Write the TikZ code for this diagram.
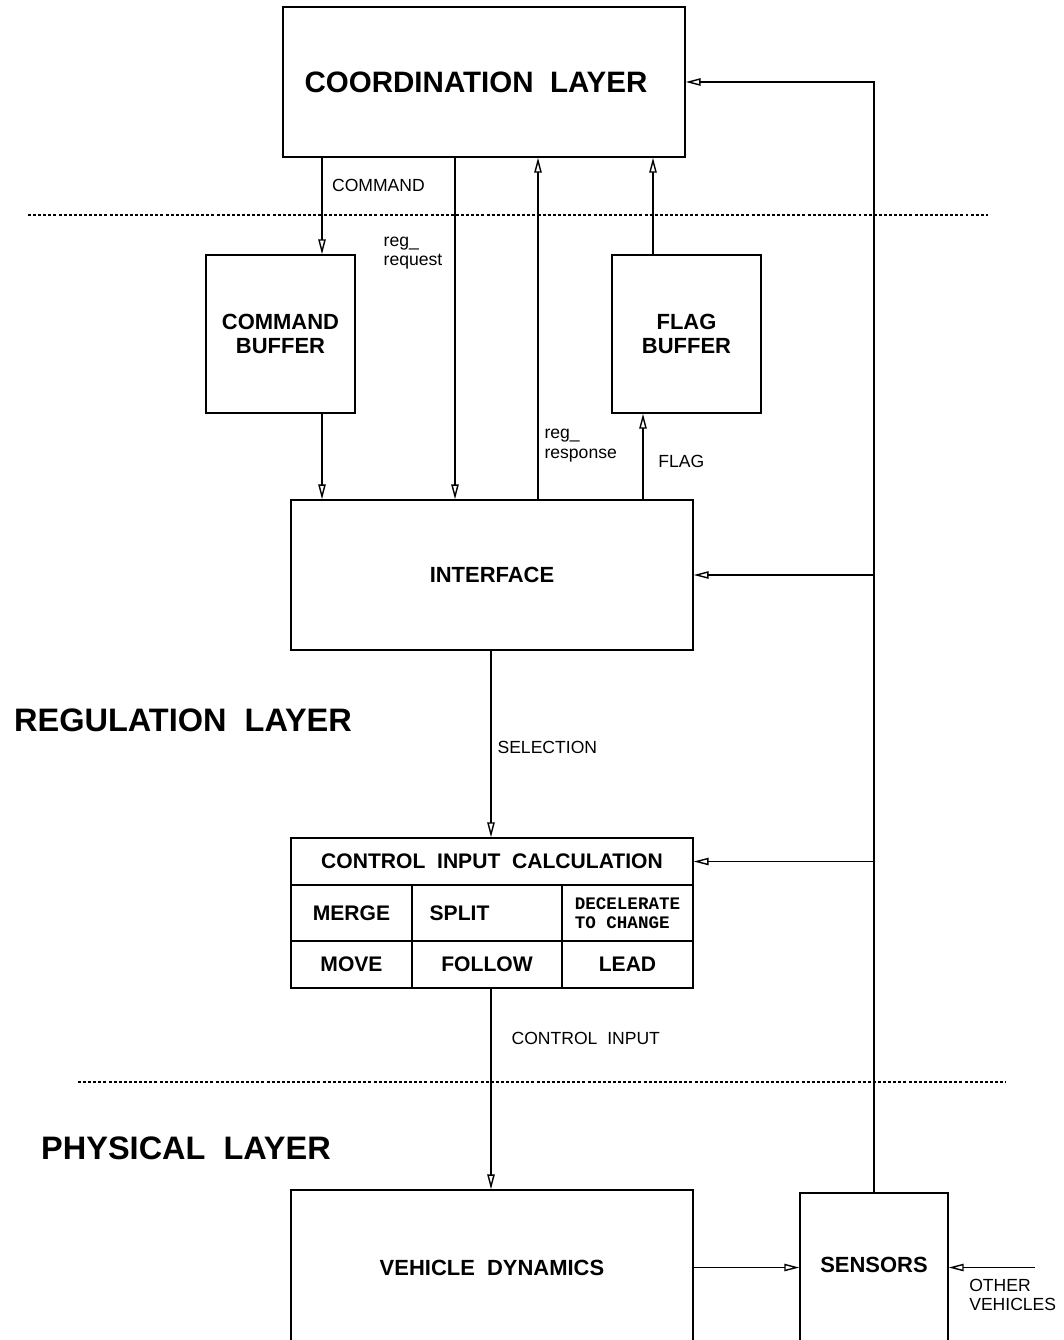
\documentclass[tikz,border=0pt]{standalone}
\usepackage{fontspec}
\setmainfont{Liberation Sans}
\setmonofont{Liberation Mono}
\usepackage{tikz}
\usetikzlibrary{arrows.meta}

\begin{document}
\begin{tikzpicture}[
  x=0.02cm, y=-0.02cm,
  >={Triangle[open,length=8.5pt,width=4.2pt]},
  line width=0.8pt,
  block/.style={draw,line width=0.85pt,align=center,inner sep=0pt,
                font=\fontsize{12.5}{14}\selectfont\bfseries},
  cell/.style={block,font=\fontsize{12}{14}\selectfont\bfseries},
  lbl/.style={font=\fontsize{10}{11}\selectfont,align=left},
  layer/.style={font=\fontsize{18.5}{22}\selectfont\bfseries},
  sep/.style={line width=1.3pt,dash pattern=on 1.7pt off 1.2pt}
]
 \useasboundingbox (0,0) rectangle (1063,1340);

 % boxes
 \node[block,minimum width=8.04cm,minimum height=3cm,
       font=\fontsize{16.8}{18}\selectfont\bfseries] (coord) at (484,82)
       {COORDINATION~~LAYER\hspace{0.32cm}};
 \node[block,minimum width=2.98cm,minimum height=3.16cm] (cbuf) at (280.5,334)
       {COMMAND\\BUFFER};
 \node[block,minimum width=2.98cm,minimum height=3.16cm] (fbuf) at (686.5,334)
       {FLAG\\BUFFER};
 \node[block,minimum width=8.04cm,minimum height=3cm] (iface) at (492,575)
       {INTERFACE};

 % control input table
 \node[cell,minimum width=8.04cm,minimum height=0.94cm] (calc) at (492,861.5)
       {CONTROL~~INPUT~~CALCULATION};
 \node[cell,minimum width=2.42cm,minimum height=1.12cm] (merge) at (351.5,913) {MERGE};
 \node[cell,minimum width=3cm,minimum height=1.12cm] (split) at (487,913)
       {SPLIT\hspace{1.1cm}};
 \node[cell,minimum width=2.62cm,minimum height=1.12cm,align=left,
       font=\fontsize{10}{11}\selectfont\ttfamily\bfseries] (decel) at (627.5,913)
       {DECELERATE\\TO CHANGE};
 \node[cell,minimum width=2.42cm,minimum height=0.94cm] (move) at (351.5,964.5) {MOVE};
 \node[cell,minimum width=3cm,minimum height=0.94cm] (follow) at (487,964.5)
       {FOLLOW};
 \node[cell,minimum width=2.62cm,minimum height=0.94cm] (lead) at (627.5,964.5) {LEAD};

 \node[block,minimum width=8.04cm,minimum height=3.1cm] (vd) at (492,1267.5)
       {VEHICLE~~DYNAMICS};
 \node[block,minimum width=2.96cm,minimum height=3.04cm] (sens) at (874,1269)
       {\raisebox{5pt}{SENSORS}};

 % layer names and separators
 \node[layer] (reglayer) at (183,720) {REGULATION~~LAYER};
 \node[layer] (phylayer) at (186,1148) {PHYSICAL~~LAYER};
 \draw[sep] (28,215) -- (988,215);
 \draw[sep] (78,1082) -- (1006,1082);

 % arrow columns
 \coordinate (xcmd) at (322,0);
 \coordinate (xreq) at (455,0);
 \coordinate (xresp) at (538,0);
 \coordinate (xfup) at (653,0);
 \coordinate (xflag) at (643,0);
 \coordinate (xsel) at (491,0);

 \draw[->] (coord.south -| xcmd) --
   node[pos=0.29,right,lbl,xshift=2pt] (lcmd) {COMMAND} (cbuf.north -| xcmd);
 \draw[->] (cbuf.south -| xcmd) -- (iface.north -| xcmd);
 \draw[->] (coord.south -| xreq) --
   node[pos=0.28,left,lbl,xshift=-3.5pt] (lreq) {reg\_\\request} (iface.north -| xreq);
 \draw[->] (iface.north -| xresp) --
   node[pos=0.157,right,lbl] (lresp) {reg\_\\response} (coord.south -| xresp);
 \draw[->] (fbuf.north -| xfup) -- (coord.south -| xfup);
 \draw[->] (iface.north -| xflag) --
   node[pos=0.44,right,lbl,xshift=5pt] (lflag) {FLAG} (fbuf.south -| xflag);
 \draw[->] (iface.south -| xsel) --
   node[pos=0.52,right,lbl] (lsel) {SELECTION} (calc.north -| xsel);
 \draw[->] (follow.south -| xsel) --
   node[pos=0.25,right,lbl,xshift=8pt] (lctl) {CONTROL~~INPUT} (vd.north -| xsel);

 % vehicle and sensors
 \draw[->] (vd.east) -- (sens.west |- vd.east);
 \coordinate (ov) at (1035,1267.5);
 \draw[->] (ov) -- node[pos=0.77,anchor=north west,lbl,inner xsep=0pt,yshift=-3pt]
   (lov) {OTHER\\VEHICLES} (sens.east |- ov);

 % feedback from sensors
 \draw[->] (sens.north) |- (coord.east);
 \draw[->] (sens.north |- iface.east) -- (iface.east);
 \draw[->] (sens.north |- calc.east) -- (calc.east);
\end{tikzpicture}
\end{document}
